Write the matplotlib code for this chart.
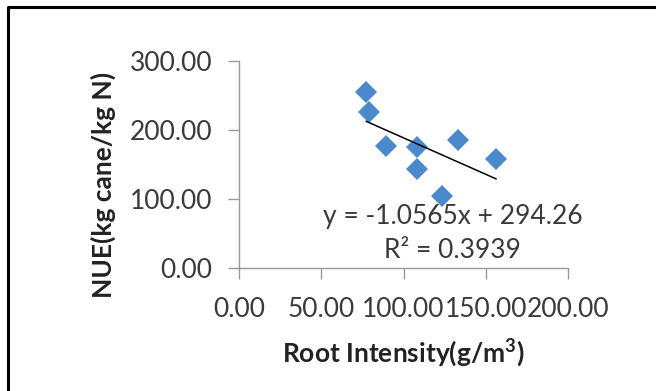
import numpy as np
import matplotlib.pyplot as plt
from matplotlib.lines import Line2D

plt.rcParams["font.family"] = ["Lato", "DejaVu Sans"]
plt.rcParams["mathtext.fontset"] = "custom"
plt.rcParams["mathtext.rm"] = "Lato:bold"
plt.rcParams["mathtext.bf"] = "Lato:bold"

# root intensity (g/m3) vs nitrogen use efficiency
root_intensity = [77.4, 78.8, 89.3, 108.5, 108.5, 123.2, 133.3, 156.2]
nue = [255, 226, 177, 175, 144, 104, 185, 157.5]

# linear trendline
slope = -1.0565
intercept = 294.26
r_squared = 0.3939

x_ticks = [0, 50, 100, 150, 200]
y_ticks = [0, 100, 200, 300]

fig = plt.figure(figsize=(6.56, 3.91), dpi=100)
ax = fig.add_axes([0.3643, 0.3146, 0.5016, 0.5294])

ax.plot(root_intensity, nue, linestyle="none", marker="D", markersize=11,
        color="#4A89CC", markeredgewidth=0)

xs = np.array([min(root_intensity), max(root_intensity)])
ax.plot(xs, slope * xs + intercept, color="black", linewidth=1.1)

ax.set_xlim(0, 200)
ax.set_ylim(0, 300)
ax.set_xticks(x_ticks)
ax.set_yticks(y_ticks)
ax.set_xticklabels([f"{v:.2f}" for v in x_ticks])
ax.set_yticklabels([f"{v:.2f}" for v in y_ticks])

for side in ["top", "right"]:
    ax.spines[side].set_visible(False)
for side in ["left", "bottom"]:
    ax.spines[side].set_color("#999999")
    ax.spines[side].set_linewidth(1.0)

ax.tick_params(axis="both", direction="out", length=8, width=1.0,
               color="#999999", labelsize=19, labelcolor="#3a3a3a")
ax.tick_params(axis="y", pad=11)
ax.tick_params(axis="x", pad=13)

ax.set_ylabel("NUE(kg cane/kg N)", fontsize=19, fontweight="bold",
              color="#222222", va="center")
ax.yaxis.set_label_coords(-0.413, 0.40)
ax.set_xlabel(r"Root Intensity(g/m$^{\mathbf{3}}$)", fontsize=19,
              fontweight="bold", color="#222222", va="center")
ax.xaxis.set_label_coords(0.50, -0.41)

ax.text(130, 74, f"y = {slope}x + {intercept}", fontsize=19,
        color="#3a3a3a", ha="center", va="center")
ax.text(130, 26, f"R² = {r_squared}", fontsize=19,
        color="#3a3a3a", ha="center", va="center")

# black frame on the top and left edges
fig.add_artist(Line2D([8 / 656, 8 / 656, 1.0], [0.0, 1 - 7 / 391, 1 - 7 / 391],
                      transform=fig.transFigure, color="black", linewidth=2.2))

fig.savefig("out.png", dpi=100)
